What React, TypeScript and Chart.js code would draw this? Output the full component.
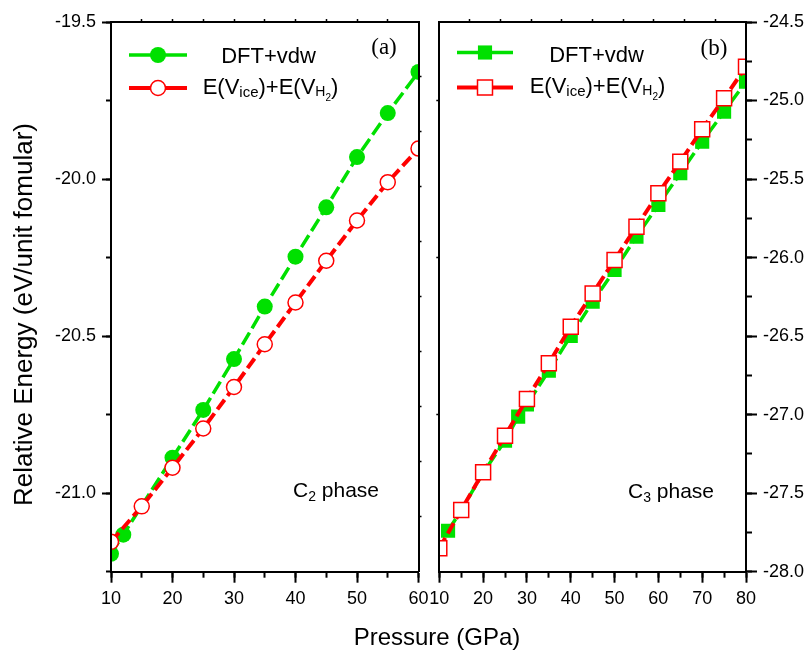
import React, { useEffect, useRef } from 'react';
import { Chart, registerables } from 'chart.js';

Chart.register(...registerables);

const GREEN = '#00e000';
const RED = '#ff0000';
const SANS = "'Liberation Sans', Arial, sans-serif";
const SERIF = "'Liberation Serif', 'Times New Roman', serif";

// ---- Panel (a): C2 phase ----
const pressureC2Dft = [10, 12, 20, 25, 30, 35, 40, 45, 50, 55, 60];
const energyC2Dft = [-21.193, -21.132, -20.887, -20.735, -20.573, -20.406, -20.247, -20.09, -19.93, -19.79, -19.659];
const pressureC2Sum = [10, 15, 20, 25, 30, 35, 40, 45, 50, 55, 60];
const energyC2Sum = [-21.155, -21.042, -20.919, -20.794, -20.662, -20.526, -20.393, -20.26, -20.132, -20.01, -19.903];

// ---- Panel (b): C3 phase ----
const pressureC3Dft = [12, 15, 20, 25, 28, 30, 35, 40, 45, 50, 55, 60, 65, 70, 75, 80];
const energyC3Dft = [-27.739, -27.61, -27.37, -27.166, -27.013, -26.935, -26.72, -26.499, -26.281, -26.079, -25.867, -25.665, -25.463, -25.262, -25.071, -24.88];
const pressureC3Sum = [10, 15, 20, 25, 30, 35, 40, 45, 50, 55, 60, 65, 70, 75, 80];
const energyC3Sum = [-27.851, -27.607, -27.367, -27.134, -26.9, -26.673, -26.44, -26.228, -26.015, -25.803, -25.591, -25.389, -25.183, -24.986, -24.785];

// ---- Tick labels / positions ----
const xTicksC2 = [10, 20, 30, 40, 50, 60];
const xMinorC2 = [10, 15, 20, 25, 30, 35, 40, 45, 50, 55, 60];
const yTicksC2 = [-21.0, -20.5, -20.0, -19.5];
const yMinorC2 = [-21.25, -21.0, -20.75, -20.5, -20.25, -20.0, -19.75, -19.5];
const xTicksC3 = [10, 20, 30, 40, 50, 60, 70, 80];
const xMinorC3 = [10, 15, 20, 25, 30, 35, 40, 45, 50, 55, 60, 65, 70, 75, 80];
const yTicksC3 = [-28.0, -27.5, -27.0, -26.5, -26.0, -25.5, -25.0, -24.5];
const yMinorC3 = [-28.0, -27.75, -27.5, -27.25, -27.0, -26.75, -26.5, -26.25, -26.0, -25.75, -25.5, -25.25, -25.0, -24.75, -24.5];
const edgeTicks = [1, 2, 3, 4, 5, 6, 7, 8, 9];
const yEdgeC3 = [-27, -26, -25];

const legendLabels = ['DFT+vdw', 'E(Vice)+E(VH2)'];

type Seg = { t: string; size: number; dy: number };

function drawRich(ctx: CanvasRenderingContext2D, segs: Seg[], x: number, y: number, align: 'left' | 'center', family: string) {
  ctx.save();
  ctx.textBaseline = 'alphabetic';
  ctx.textAlign = 'left';
  ctx.fillStyle = '#000';
  let total = 0;
  for (const s of segs) {
    ctx.font = `${s.size}px ${family}`;
    total += ctx.measureText(s.t).width;
  }
  let cx = align === 'center' ? x - total / 2 : x;
  for (const s of segs) {
    ctx.font = `${s.size}px ${family}`;
    ctx.fillText(s.t, cx, y + s.dy);
    cx += ctx.measureText(s.t).width;
  }
  ctx.restore();
}

function drawLegendRow(ctx: CanvasRenderingContext2D, ds: any, x1: number, x2: number, y: number) {
  ctx.save();
  ctx.setLineDash([]);
  ctx.strokeStyle = ds.borderColor;
  ctx.lineWidth = ds.borderWidth;
  ctx.beginPath();
  ctx.moveTo(x1, y);
  ctx.lineTo(x2, y);
  ctx.stroke();
  const cx = (x1 + x2) / 2;
  const r = ds.pointRadius;
  ctx.beginPath();
  if (ds.pointStyle === 'rect') {
    const s = Math.SQRT1_2 * r;
    ctx.rect(cx - s, y - s, 2 * s, 2 * s);
  } else {
    ctx.arc(cx, y, r, 0, Math.PI * 2);
  }
  ctx.fillStyle = ds.pointBackgroundColor;
  ctx.fill();
  if (ds.pointBorderWidth > 0) {
    ctx.lineWidth = ds.pointBorderWidth;
    ctx.strokeStyle = ds.pointBorderColor;
    ctx.stroke();
  }
  ctx.restore();
}

const sumLabelSegs: Seg[] = [
  { t: 'E(V', size: 22, dy: 0 },
  { t: 'ice', size: 15, dy: 3 },
  { t: ')+E(V', size: 22, dy: 0 },
  { t: 'H', size: 14, dy: 2 },
  { t: '2', size: 10, dy: 7 },
  { t: ')', size: 22, dy: 0 },
];

const setTicks = (values: number[]) => (scale: any) => {
  scale.ticks = values.map((v) => ({ value: v }));
};
const fixW = (w: number) => (scale: any) => {
  scale.width = w;
};
const fixH = (h: number) => (scale: any) => {
  scale.height = h;
};

function axis(o: {
  position: string;
  min: number;
  max: number;
  ticks: number[];
  size: number;
  tickLength: number;
  tickWidth?: number;
  labels?: boolean;
  weight: number;
  decimals?: number;
  padding?: number;
}) {
  const horizontal = o.position === 'top' || o.position === 'bottom';
  return {
    type: 'linear',
    position: o.position,
    min: o.min,
    max: o.max,
    weight: o.weight,
    afterBuildTicks: setTicks(o.ticks),
    afterFit: horizontal ? fixH(o.size) : fixW(o.size),
    grid: {
      display: true,
      drawOnChartArea: false,
      drawTicks: true,
      tickLength: o.tickLength,
      tickWidth: o.tickWidth ?? 2,
      tickColor: '#000',
      z: 1,
    },
    border: { display: true, color: '#000', width: 2, z: 1 },
    ticks: {
      autoSkip: false,
      maxRotation: 0,
      minRotation: 0,
      padding: o.padding ?? 6,
      color: '#000',
      font: { family: SANS, size: 18 },
      callback: (v: any) => (o.labels ? (o.decimals ? Number(v).toFixed(o.decimals) : String(v)) : ''),
    },
  };
}

function makeTextPlugin(id: string, draw: (chart: any, ctx: CanvasRenderingContext2D) => void) {
  return {
    id,
    afterDraw(chart: any) {
      draw(chart, chart.ctx);
    },
  };
}

function leftConfig(): any {
  const dft = {
    label: legendLabels[0],
    data: pressureC2Dft.map((x, i) => ({ x, y: energyC2Dft[i] })),
    borderColor: GREEN,
    backgroundColor: GREEN,
    borderWidth: 3.5,
    borderDash: [14, 5],
    pointStyle: 'circle',
    pointRadius: 8,
    pointBackgroundColor: GREEN,
    pointBorderColor: GREEN,
    pointBorderWidth: 0,
    xAxisID: 'x',
    yAxisID: 'y',
    order: 2,
    clip: 0,
    tension: 0,
  };
  const sum = {
    label: legendLabels[1],
    data: pressureC2Sum.map((x, i) => ({ x, y: energyC2Sum[i] })),
    borderColor: RED,
    backgroundColor: RED,
    borderWidth: 4,
    borderDash: [12, 5],
    pointStyle: 'circle',
    pointRadius: 7.5,
    pointBackgroundColor: '#ffffff',
    pointBorderColor: RED,
    pointBorderWidth: 1.5,
    xAxisID: 'x',
    yAxisID: 'y',
    order: 1,
    clip: 0,
    tension: 0,
  };
  return {
    type: 'line',
    data: { datasets: [dft, sum] },
    options: {
      responsive: false,
      animation: false,
      events: [],
      layout: { padding: { left: 0, right: 812 - 418.5, top: 22, bottom: 0 } },
      plugins: { legend: { display: false }, tooltip: { enabled: false } },
      scales: {
        x: axis({ position: 'bottom', min: 10, max: 60, ticks: xTicksC2, size: 652 - 571.7, tickLength: 11, labels: true, weight: 1 }),
        xMinor: axis({ position: 'bottom', min: 10, max: 60, ticks: xMinorC2, size: 0, tickLength: 6, weight: 0 }),
        xTop: axis({ position: 'top', min: 0, max: 10, ticks: edgeTicks, size: 0, tickLength: 3, tickWidth: 1.5, weight: 0 }),
        y: axis({ position: 'left', min: -21.25, max: -19.5, ticks: yTicksC2, size: 111, tickLength: 9, labels: true, decimals: 1, weight: 1 }),
        yMinor: axis({ position: 'left', min: -21.25, max: -19.5, ticks: yMinorC2, size: 0, tickLength: 5, weight: 0 }),
        yRight: axis({ position: 'right', min: 0, max: 10, ticks: edgeTicks, size: 0, tickLength: 3, tickWidth: 1.5, weight: 0 }),
      },
    },
    plugins: [
      makeTextPlugin('textA', (chart, ctx) => {
        const ds = chart.data.datasets;
        drawLegendRow(ctx, ds[0], 129, 187, 55);
        drawLegendRow(ctx, ds[1], 129, 187, 88);
        drawRich(ctx, [{ t: legendLabels[0], size: 22, dy: 0 }], 268.5, 62.5, 'center', SANS);
        drawRich(ctx, sumLabelSegs, 270.5, 94, 'center', SANS);
        drawRich(ctx, [{ t: '(a)', size: 23, dy: 0 }], 384, 54, 'center', SERIF);
        drawRich(
          ctx,
          [
            { t: 'C', size: 21, dy: 0 },
            { t: '2', size: 14, dy: 4 },
            { t: ' phase', size: 21, dy: 0 },
          ],
          293,
          497,
          'left',
          SANS
        );
        // shared x-axis title
        drawRich(ctx, [{ t: 'Pressure (GPa)', size: 24, dy: 0 }], 437, 645, 'center', SANS);
        // y-axis title
        ctx.save();
        ctx.translate(32, 314.5);
        ctx.rotate(-Math.PI / 2);
        drawRich(ctx, [{ t: 'Relative Energy (eV/unit fomular)', size: 26, dy: 0 }], 0, 0, 'center', SANS);
        ctx.restore();
      }),
    ],
  };
}

function rightConfig(): any {
  const dft = {
    label: legendLabels[0],
    data: pressureC3Dft.map((x, i) => ({ x, y: energyC3Dft[i] })),
    borderColor: GREEN,
    backgroundColor: GREEN,
    borderWidth: 3.5,
    borderDash: [14, 5],
    pointStyle: 'rect',
    pointRadius: 10,
    pointBackgroundColor: GREEN,
    pointBorderColor: GREEN,
    pointBorderWidth: 0,
    xAxisID: 'x',
    yAxisID: 'y',
    order: 2,
    clip: 0,
    tension: 0,
  };
  const sum = {
    label: legendLabels[1],
    data: pressureC3Sum.map((x, i) => ({ x, y: energyC3Sum[i] })),
    borderColor: RED,
    backgroundColor: RED,
    borderWidth: 4,
    borderDash: [12, 5],
    pointStyle: 'rect',
    pointRadius: 10.6,
    pointBackgroundColor: '#ffffff',
    pointBorderColor: RED,
    pointBorderWidth: 1.5,
    xAxisID: 'x',
    yAxisID: 'y',
    order: 1,
    clip: 0,
    tension: 0,
  };
  return {
    type: 'line',
    data: { datasets: [dft, sum] },
    options: {
      responsive: false,
      animation: false,
      events: [],
      layout: { padding: { left: 439.3, right: 0, top: 22, bottom: 0 } },
      plugins: { legend: { display: false }, tooltip: { enabled: false } },
      scales: {
        x: axis({ position: 'bottom', min: 10, max: 80, ticks: xTicksC3, size: 652 - 571.7, tickLength: 11, labels: true, weight: 1 }),
        xMinor: axis({ position: 'bottom', min: 10, max: 80, ticks: xMinorC3, size: 0, tickLength: 6, weight: 0 }),
        xTop: axis({ position: 'top', min: 0, max: 10, ticks: edgeTicks, size: 0, tickLength: 3, tickWidth: 1.5, weight: 0 }),
        y: axis({ position: 'right', min: -28, max: -24.5, ticks: yTicksC3, size: 812 - 746, tickLength: 11, labels: true, decimals: 1, weight: 1 }),
        yMinor: axis({ position: 'right', min: -28, max: -24.5, ticks: yMinorC3, size: 0, tickLength: 6, weight: 0 }),
        yLeft: axis({ position: 'left', min: -28, max: -24.5, ticks: yEdgeC3, size: 0, tickLength: 3, tickWidth: 1.5, weight: 0 }),
      },
    },
    plugins: [
      makeTextPlugin('textB', (chart, ctx) => {
        const ds = chart.data.datasets;
        drawLegendRow(ctx, ds[0], 457, 513, 52.5);
        drawLegendRow(ctx, ds[1], 457, 513, 87.5);
        drawRich(ctx, [{ t: legendLabels[0], size: 22, dy: 0 }], 596.5, 62, 'center', SANS);
        drawRich(ctx, sumLabelSegs, 597.5, 92.5, 'center', SANS);
        drawRich(ctx, [{ t: '(b)', size: 23, dy: 0 }], 714, 55, 'center', SERIF);
        drawRich(
          ctx,
          [
            { t: 'C', size: 21, dy: 0 },
            { t: '3', size: 14, dy: 4 },
            { t: ' phase', size: 21, dy: 0 },
          ],
          628,
          498,
          'left',
          SANS
        );
      }),
    ],
  };
}

export default function App() {
  const leftRef = useRef<HTMLCanvasElement>(null);
  const rightRef = useRef<HTMLCanvasElement>(null);
  useEffect(() => {
    const c1 = new Chart(leftRef.current as HTMLCanvasElement, leftConfig());
    const c2 = new Chart(rightRef.current as HTMLCanvasElement, rightConfig());
    return () => {
      c1.destroy();
      c2.destroy();
    };
  }, []);
  return (
    <div style={{ position: 'fixed', left: 0, top: 0, width: 812, height: 652, background: '#ffffff' }}>
      <canvas ref={leftRef} width={812} height={652} style={{ position: 'absolute', left: 0, top: 0 }} />
      <canvas ref={rightRef} width={812} height={652} style={{ position: 'absolute', left: 0, top: 0 }} />
    </div>
  );
}
